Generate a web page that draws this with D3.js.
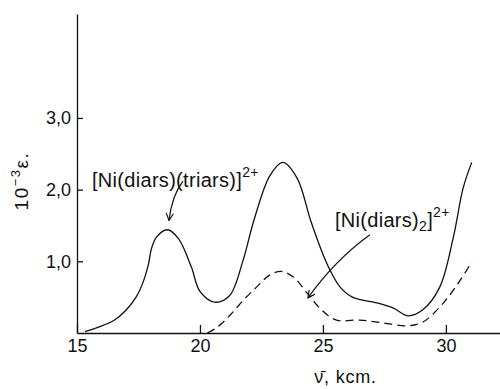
<!DOCTYPE html>
<html>
<head>
<meta charset="utf-8">
<script src="https://cdn.jsdelivr.net/npm/d3@7"></script>
<style>
  body { margin: 0; background: #fff; }
  svg { display: block; font-family: "Liberation Sans", sans-serif; }
</style>
</head>
<body>
<svg id="chart" width="500" height="389"></svg>
<script>
// wavenumber (kK) and 10^-3 * epsilon
const triarsX = [15.33, 15.93, 16.48, 17.0, 17.42, 17.7, 17.9, 18.03, 18.24, 18.67, 19.12, 19.65, 20.0, 20.6, 21.2, 21.75, 22.2, 22.85, 23.37, 23.95, 24.5, 25.0, 25.3, 25.7, 26.2, 27.2, 27.85, 28.45, 29.05, 29.75, 30.3, 30.7, 31.05];
const triarsY = [0.02, 0.09, 0.17, 0.32, 0.51, 0.72, 0.95, 1.18, 1.34, 1.44, 1.32, 0.92, 0.58, 0.43, 0.52, 1.01, 1.58, 2.2, 2.38, 2.16, 1.57, 1.1, 0.87, 0.64, 0.5, 0.42, 0.35, 0.24, 0.32, 0.64, 1.33, 2.02, 2.38];
const diarsX = [20.3, 20.7, 21.2, 21.8, 22.3, 22.8, 23.3, 23.8, 24.35, 24.95, 25.55, 26.5, 27.45, 28.4, 29.05, 29.9, 30.55, 31.05];
const diarsY = [0.0, 0.08, 0.24, 0.47, 0.64, 0.8, 0.86, 0.78, 0.56, 0.32, 0.18, 0.18, 0.14, 0.1, 0.15, 0.42, 0.72, 0.99];
const xTicks = [15, 20, 25, 30];
const yTicks = [1, 2, 3];

const svg = d3.select("#chart");
const margin = { top: 14, right: 0, bottom: 56, left: 77 };
const width = 500, height = 389;

const x = d3.scaleLinear().domain([15, 32.2]).range([margin.left, width - margin.right]);
const y = d3.scaleLinear().domain([0, 4.45]).range([height - margin.bottom, margin.top]);

// axes, ticks point inward
svg.append("g")
  .attr("class", "x axis")
  .attr("transform", "translate(0," + y(0) + ")")
  .call(d3.axisBottom(x).tickValues(xTicks).tickSizeInner(-8).tickSizeOuter(0).tickPadding(6).tickFormat(d3.format("d")));

svg.append("g")
  .attr("class", "y axis")
  .attr("transform", "translate(" + x(15) + ",0)")
  .call(d3.axisLeft(y).tickValues(yTicks).tickSizeInner(-6).tickSizeOuter(0).tickPadding(6)
    .tickFormat(d => d3.format(".1f")(d).replace(".", ",")));

svg.selectAll(".axis path, .axis line").attr("stroke", "#111").attr("stroke-width", 1.3);
svg.selectAll(".axis text").attr("font-size", 18).attr("fill", "#111").attr("font-family", "Liberation Sans, sans-serif");

// axis titles
svg.append("text")
  .attr("x", x(24.65))
  .attr("y", 383)
  .attr("font-size", 18)
  .attr("letter-spacing", 0.8)
  .attr("fill", "#111")
  .text("ν̄, kcm.");

svg.append("text")
  .attr("transform", "translate(28," + y(2.12) + ") rotate(-90)")
  .attr("text-anchor", "middle")
  .attr("font-size", 19)
  .attr("letter-spacing", 1.5)
  .attr("fill", "#111")
  .call(t => {
    t.append("tspan").text("10");
    t.append("tspan").attr("dy", -8).attr("font-size", 13).text("−3");
    t.append("tspan").attr("dy", 8).text("ε.");
  });

// curves
const line = d3.line()
  .x(d => x(d[0]))
  .y(d => y(d[1]))
  .curve(d3.curveCatmullRom.alpha(0.5));

svg.append("path")
  .datum(d3.zip(triarsX, triarsY))
  .attr("fill", "none")
  .attr("stroke", "#111")
  .attr("stroke-width", 1.3)
  .attr("d", line);

svg.append("path")
  .datum(d3.zip(diarsX, diarsY))
  .attr("fill", "none")
  .attr("stroke", "#111")
  .attr("stroke-width", 1.3)
  .attr("stroke-dasharray", "8,5")
  .attr("d", line);

// annotations
svg.append("defs").append("marker")
  .attr("id", "arrow")
  .attr("viewBox", "0 0 10 10")
  .attr("refX", 9).attr("refY", 5)
  .attr("markerWidth", 9).attr("markerHeight", 9)
  .attr("markerUnits", "userSpaceOnUse")
  .attr("orient", "auto")
  .append("path")
  .attr("d", "M1,1L9,5L1,9")
  .attr("fill", "none")
  .attr("stroke", "#111")
  .attr("stroke-width", 1.3);

function arrow(from, ctrl, to) {
  const p = d3.path();
  p.moveTo(x(from[0]), y(from[1]));
  p.quadraticCurveTo(x(ctrl[0]), y(ctrl[1]), x(to[0]), y(to[1]));
  svg.append("path")
    .attr("d", p.toString())
    .attr("fill", "none")
    .attr("stroke", "#111")
    .attr("stroke-width", 1.2)
    .attr("marker-end", "url(#arrow)");
}

arrow([19.31, 2.12], [18.86, 1.92], [18.74, 1.57]);
arrow([26.91, 1.37], [25.5, 1.02], [24.39, 0.49]);

function label(pos, parts) {
  const t = svg.append("text")
    .attr("x", x(pos[0]))
    .attr("y", y(pos[1]))
    .attr("font-size", 20)
    .attr("letter-spacing", 0.3)
    .attr("fill", "#111");
  parts.forEach(p => {
    t.append("tspan")
      .attr("dy", p.dy || 0)
      .attr("font-size", p.size || 20)
      .text(p.text);
  });
}

label([15.61, 2.04], [
  { text: "[Ni(diars)(triars)]" },
  { text: "2+", dy: -10, size: 14 }
]);
label([25.49, 1.48], [
  { text: "[Ni(diars)" },
  { text: "2", dy: 4, size: 14 },
  { text: "]", dy: -4 },
  { text: "2+", dy: -10, size: 14 }
]);
</script>
</body>
</html>
